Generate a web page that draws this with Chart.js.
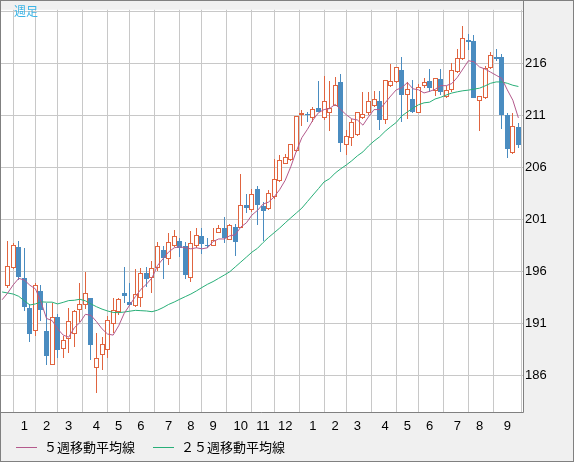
<!DOCTYPE html>
<html lang="ja">
<head>
<meta charset="utf-8">
<title>週足</title>
<script src="https://cdn.jsdelivr.net/npm/chart.js@4.4.1/dist/chart.umd.min.js"></script>
<style>
  html, body { margin: 0; padding: 0; background: #f0f0f0; }
  #wrap { width: 574px; height: 462px; }
</style>
</head>
<body>
<div id="wrap"><canvas id="chart" width="574" height="462"></canvas></div>
<script>
'use strict';

/* ── weekly candles, oldest first ── */
const opens = [194.64, 196.34, 198.38, 195.39, 192.5, 190.27, 194.13, 190.27, 187.03, 191.68,
    188.54, 189.57, 190.0, 192.31, 192.78, 193.44, 186.71, 188.03, 188.5, 190.96,
    192.12, 193.95, 193.1, 192.69, 193.47, 195.83, 195.42, 196.37, 198.1, 197.18,
    198.44, 198.94, 198.44, 195.42, 198.44, 199.48, 198.57, 198.44, 199.76, 200.17,
    199.07, 200.27, 200.23, 202.43, 201.9, 203.91, 202.28, 202.03, 203.22, 204.73,
    206.37, 206.74, 207.62, 211.08, 211.18, 210.77, 211.78, 210.77, 211.24, 211.96,
    214.23, 208.22, 208.82, 209.2, 210.77, 211.24, 211.93, 212.44, 210.55, 213.82,
    214.29, 215.45, 213.03, 212.62, 211.27, 213.82, 214.32, 213.41, 214.51, 212.78,
    213.5, 215.23, 216.46, 218.28, 218.19, 212.4, 212.69, 215.61, 216.65, 216.65,
    211.05, 207.43, 209.89];
const highs = [198.98, 198.76, 198.95, 198.32, 192.88, 194.92, 194.76, 193.03, 192.94, 191.93,
    189.8, 192.5, 192.31, 194.89, 195.99, 193.47, 190.08, 189.7, 191.75, 193.47,
    193.47, 196.46, 194.95, 196.3, 196.37, 196.46, 197.0, 198.88, 198.44, 199.76,
    200.0, 199.26, 198.82, 199.9, 200.2, 200.2, 199.26, 200.2, 200.52, 201.3,
    200.61, 200.55, 205.36, 203.47, 203.91, 204.23, 202.75, 203.9, 206.84, 207.21,
    207.31, 208.25, 210.99, 211.56, 211.37, 211.87, 214.32, 214.86, 214.39, 214.76,
    215.01, 209.67, 210.67, 211.37, 213.28, 213.28, 213.38, 213.38, 214.48, 215.96,
    215.7, 216.62, 214.29, 214.42, 214.04, 214.67, 215.52, 214.67, 215.52, 213.88,
    216.08, 217.4, 219.6, 218.85, 218.75, 212.94, 215.77, 217.12, 217.4, 216.93,
    211.27, 211.27, 210.26];
const lows = [194.42, 196.27, 195.17, 192.25, 189.26, 189.8, 191.24, 187.0, 187.0, 187.69,
    187.69, 188.22, 188.76, 191.12, 192.37, 187.5, 184.36, 186.56, 187.66, 190.08,
    191.81, 193.0, 192.69, 192.63, 192.63, 194.57, 193.98, 196.08, 195.3, 196.68,
    198.35, 197.37, 195.3, 194.98, 198.3, 197.66, 198.25, 198.44, 199.7, 198.76,
    199.01, 197.47, 200.17, 201.65, 201.71, 200.49, 198.98, 201.9, 203.0, 204.64,
    206.34, 206.68, 207.53, 209.98, 210.36, 210.36, 211.4, 210.61, 209.51, 211.93,
    207.53, 207.21, 208.1, 209.1, 210.67, 211.08, 211.8, 209.67, 210.23, 213.76,
    214.2, 210.36, 210.67, 211.3, 211.27, 213.72, 213.31, 212.94, 213.0, 212.72,
    213.31, 215.14, 216.4, 217.34, 212.69, 209.54, 212.62, 215.52, 216.24, 209.7,
    206.96, 207.34, 207.91];
const closes = [196.56, 198.6, 195.49, 192.56, 190.05, 194.7, 192.31, 187.85, 191.65, 188.47,
    189.39, 191.3, 192.22, 192.91, 193.95, 188.98, 187.72, 189.04, 191.37, 192.31,
    193.38, 193.7, 192.81, 193.85, 195.9, 195.3, 196.37, 198.44, 197.31, 198.82,
    199.48, 198.25, 195.67, 198.76, 199.57, 198.63, 198.44, 199.07, 200.23, 199.23,
    200.45, 198.82, 202.43, 202.09, 203.47, 202.37, 201.81, 203.54, 204.95, 206.74,
    207.06, 208.25, 210.99, 211.24, 211.08, 211.65, 211.4, 212.44, 211.78, 214.01,
    208.41, 209.1, 210.36, 211.37, 211.18, 212.44, 212.62, 210.55, 214.48, 214.39,
    215.7, 213.0, 213.57, 211.37, 213.79, 214.29, 213.63, 214.67, 213.31, 213.47,
    215.45, 216.55, 218.44, 218.13, 212.72, 212.87, 215.61, 216.87, 216.49, 211.11,
    207.84, 210.04, 208.22];

/* ── moving averages: start one week before the first candle (off the left edge) ── */
const ma5 = [193.3, 193.95, 194.73, 195.36, 195.2, 194.7, 194.35, 193.1, 191.5, 191.3,
    190.5, 189.9, 189.7, 190.6, 191.1, 191.9, 191.8, 191.2, 190.5, 190.0,
    189.9, 190.8, 192.0, 192.8, 193.6, 194.3, 194.8, 195.4, 196.6, 197.25,
    197.9, 198.3, 198.4, 198.3, 198.2, 198.3, 198.2, 198.3, 198.9, 199.15,
    199.15, 199.45, 199.55, 200.3, 200.7, 201.45, 201.9, 202.5, 202.7, 203.2,
    203.9, 204.8, 206.1, 207.6, 208.9, 209.7, 210.6, 211.3, 211.6, 211.7,
    212.1, 211.6, 211.1, 210.7, 210.6, 210.1, 210.9, 211.6, 211.6, 212.25,
    212.9, 213.5, 213.7, 214.2, 213.6, 213.5, 213.2, 213.35, 213.55, 213.9,
    213.9, 214.1, 214.7, 215.5, 216.3, 216.2, 215.7, 215.5, 215.2, 214.9,
    214.6, 213.5, 212.5, 210.8];
const ma25 = [194.05, 193.95, 193.85, 193.63, 193.2, 192.8, 192.9, 193.1, 193.07, 193.07,
    192.9, 193.05, 193.22, 193.25, 193.35, 193.2, 192.9, 192.63, 192.4, 192.22,
    192.08, 192.06, 192.12, 192.2, 192.28, 192.25, 192.22, 192.15, 192.3, 192.55,
    192.85, 193.08, 193.35, 193.6, 193.85, 194.15, 194.48, 194.79, 195.05, 195.36,
    195.67, 195.99, 196.46, 196.93, 197.4, 197.88, 198.25, 198.8, 199.3, 199.75,
    200.2, 200.7, 201.18, 201.65, 202.12, 202.75, 203.38, 204.0, 204.64, 204.95,
    205.49, 205.9, 206.27, 206.68, 207.15, 207.53, 208.1, 208.57, 208.98, 209.51,
    209.95, 210.36, 210.99, 211.37, 211.74, 212.06, 212.25, 212.31, 212.62, 212.78,
    213.0, 213.19, 213.31, 213.41, 213.47, 213.57, 213.66, 213.88, 214.13, 214.26,
    214.26, 214.13, 213.94, 213.82];

/* ── axis ticks ── */
const monthWeeks  = [3, 7, 11, 16, 20, 24, 29, 33, 37, 42, 46, 50, 55, 59, 63, 68, 72, 76, 81, 85, 90];
const monthLabels = ['1', '2', '3', '4', '5', '6', '7', '8', '9', '10', '11', '12',
                     '1', '2', '3', '4', '5', '6', '7', '8', '9'];
const priceTicks  = [186, 191, 196, 201, 206, 211, 216, 221];

const UP    = '#e0643f';
const DOWN  = '#4a8cc0';
const PINK  = '#b45a8c';
const GREEN = '#28af78';
const GRID  = '#c8c8c8';
const EDGE  = '#808080';

const isUp = closes.map((c, i) => c >= opens[i]);

// snap candle bars to whole pixels so outlines and wicks stay crisp
const snapPlugin = {
    id: 'snap',
    afterDatasetsUpdate(chart) {
        chart.data.datasets.forEach((ds, di) => {
            const meta = chart.getDatasetMeta(di);
            if (meta.type !== 'bar') return;
            meta.data.forEach(el => {
                el.x = Math.round(el.x - 0.5) + 0.5;
                let top = Math.round(Math.min(el.y, el.base));
                let bot = Math.round(Math.max(el.y, el.base));
                if (bot - top < 1) bot = top + 1;
                el.y = top; el.base = bot;
            });
        });
    }
};

// backgrounds, frame, title and legend
const framePlugin = {
    id: 'frame',
    beforeDraw(chart) {
        const { ctx, chartArea: a, width, height } = chart;
        ctx.save();
        ctx.fillStyle = '#f0f0f0';
        ctx.fillRect(0, 0, width, height);
        ctx.fillStyle = '#ffffff';
        ctx.fillRect(a.left, a.top, a.right - a.left, a.bottom - a.top);
        ctx.restore();
    },
    afterDraw(chart) {
        const { ctx, chartArea: a, width, height } = chart;
        ctx.save();
        ctx.strokeStyle = EDGE;
        ctx.lineWidth = 1;
        ctx.strokeRect(0.5, 0.5, width - 1, height - 1);
        ctx.beginPath();
        ctx.moveTo(a.right + 0.5, 0);
        ctx.lineTo(a.right + 0.5, a.bottom + 0.5);
        ctx.lineTo(0, a.bottom + 0.5);
        ctx.stroke();

        ctx.textBaseline = 'middle';
        ctx.font = '12px "Noto Sans CJK JP"';
        ctx.fillStyle = '#3cb4e6';
        ctx.fillText('週足', 14, 11);

        const items = [
            { text: '５週移動平均線',   color: PINK,  x: 16 },
            { text: '２５週移動平均線', color: GREEN, x: 153 }
        ];
        ctx.font = '13px "Noto Sans CJK JP"';
        items.forEach(it => {
            ctx.strokeStyle = it.color;
            ctx.beginPath();
            ctx.moveTo(it.x, 447.5);
            ctx.lineTo(it.x + 21, 447.5);
            ctx.stroke();
            ctx.fillStyle = '#000';
            ctx.fillText(it.text, it.x + 28, 447);
        });
        ctx.restore();
    }
};

new Chart(document.getElementById('chart'), {
    type: 'bar',
    data: {
        datasets: [
            {
                type: 'line', label: '５週移動平均線',
                data: ma5.map((v, i) => ({ x: i - 1, y: v })),
                borderColor: PINK, borderWidth: 1, pointRadius: 0, tension: 0
            },
            {
                type: 'line', label: '２５週移動平均線',
                data: ma25.map((v, i) => ({ x: i - 1, y: v })),
                borderColor: GREEN, borderWidth: 1, pointRadius: 0, tension: 0
            },
            {
                label: 'body',
                data: opens.map((o, i) => ({ x: i, y: [o, closes[i]] })),
                backgroundColor: isUp.map(u => u ? '#ffffff' : DOWN),
                borderColor: isUp.map(u => u ? UP : DOWN),
                borderWidth: 1, borderSkipped: false, inflateAmount: 0,
                barThickness: 5, grouped: false
            },
            {
                label: 'wick',
                data: highs.map((h, i) => ({ x: i, y: [lows[i], h] })),
                backgroundColor: isUp.map(u => u ? UP : DOWN),
                borderWidth: 0, inflateAmount: 0,
                barThickness: 1, grouped: false
            }
        ]
    },
    options: {
        responsive: false,
        animation: false,
        layout: { padding: { left: 1, top: 1, right: 0, bottom: 0 } },
        plugins: { legend: { display: false }, tooltip: { enabled: false } },
        scales: {
            x: {
                type: 'linear', min: -1.2, max: 92.83, offset: false,
                afterBuildTicks: s => { s.ticks = monthWeeks.map(v => ({ value: v })); },
                afterFit: s => { s.height = 50; },
                grid: { color: GRID, drawTicks: false },
                border: { display: false },
                ticks: {
                    autoSkip: false, maxRotation: 0, padding: 7, color: '#000',
                    font: { family: 'Liberation Sans', size: 13 },
                    callback: (v, idx) => monthLabels[idx]
                }
            },
            y: {
                position: 'right', min: 182.5, max: 221.2,
                afterBuildTicks: s => { s.ticks = priceTicks.map(v => ({ value: v })); },
                afterFit: s => { s.width = 51; },
                grid: { color: GRID, drawTicks: false },
                border: { display: false },
                ticks: {
                    padding: 2, color: '#000',
                    font: { family: 'Liberation Sans', size: 13 },
                    callback: v => v > 216 ? '' : String(v)
                }
            }
        }
    },
    plugins: [snapPlugin, framePlugin]
});
</script>
</body>
</html>
